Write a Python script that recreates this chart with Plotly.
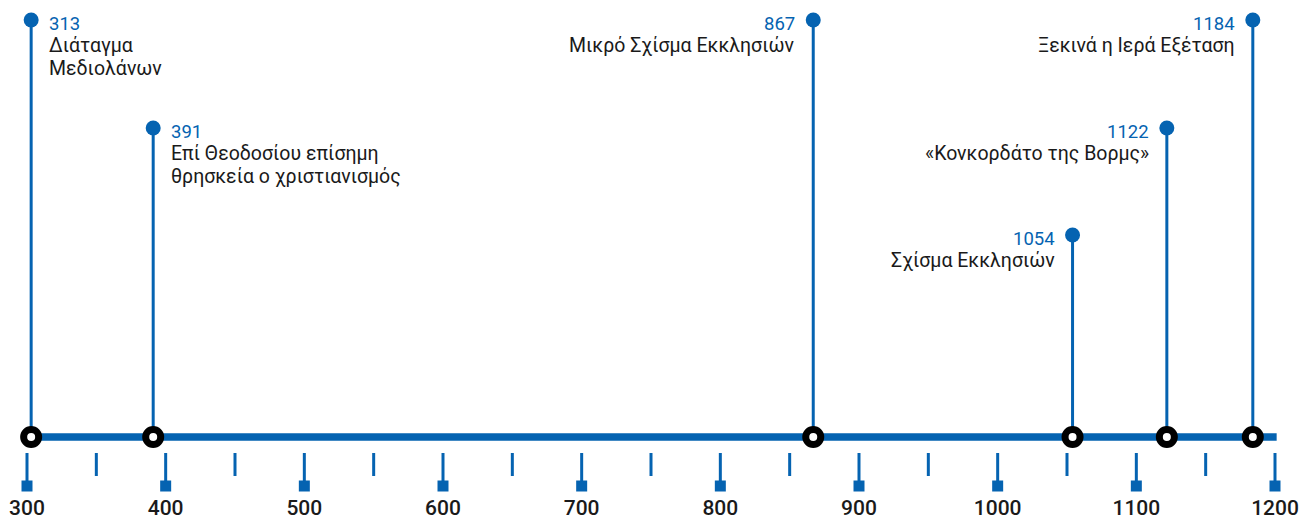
import plotly.graph_objects as go

# events
years = [313, 391, 867, 1054, 1122, 1184]
# where each event sits on the axis
axis_pos = [303, 391, 867, 1054, 1122, 1184]
stem_height = [417, 309, 417, 202, 309, 417]
labels = [
    ["Διάταγμα", "Μεδιολάνων"],
    ["Επί Θεοδοσίου επίσημη", "θρησκεία ο χριστιανισμός"],
    ["Μικρό Σχίσμα Εκκλησιών"],
    ["Σχίσμα Εκκλησιών"],
    ["«Κονκορδάτο της Βορμς»"],
    ["Ξεκινά η Ιερά Εξέταση"],
]
sides = ["right", "right", "left", "left", "left", "left"]

# axis ticks
major_ticks = [300, 400, 500, 600, 700, 800, 900, 1000, 1100, 1200]
minor_ticks = [350, 450, 550, 650, 750, 850, 950, 1050, 1150]

BLUE = "#0563b1"
DARK = "#1a1a1a"
FONT = "Roboto"

fig = go.Figure()

# main timeline bar
fig.add_trace(go.Scatter(
    x=[major_ticks[0], major_ticks[-1] + 1.2], y=[0, 0], mode="lines",
    line=dict(color=BLUE, width=7.5), hoverinfo="skip", showlegend=False,
))

# minor ticks
mx, my = [], []
for t in minor_ticks:
    mx += [t, t, None]
    my += [-16, -39, None]
fig.add_trace(go.Scatter(x=mx, y=my, mode="lines", line=dict(color=BLUE, width=3),
                         hoverinfo="skip", showlegend=False))

# major ticks + squares + labels
Mx, My = [], []
for t in major_ticks:
    Mx += [t, t, None]
    My += [-16, -44, None]
fig.add_trace(go.Scatter(x=Mx, y=My, mode="lines", line=dict(color=BLUE, width=3),
                         hoverinfo="skip", showlegend=False))
fig.add_trace(go.Scatter(
    x=major_ticks, y=[-49] * len(major_ticks), mode="markers",
    marker=dict(symbol="square", size=11, color=BLUE), hoverinfo="skip", showlegend=False,
))
fig.add_trace(go.Scatter(
    x=major_ticks, y=[-73] * len(major_ticks), mode="text",
    text=[str(t) for t in major_ticks], textposition="middle center",
    textfont=dict(family=FONT, size=21, color=DARK, weight=500),
    cliponaxis=False, hoverinfo="skip", showlegend=False,
))

# stems
sx, sy = [], []
for p, h in zip(axis_pos, stem_height):
    sx += [p, p, None]
    sy += [0, h, None]
fig.add_trace(go.Scatter(x=sx, y=sy, mode="lines", line=dict(color=BLUE, width=3),
                         hoverinfo="skip", showlegend=False))

# top dots
fig.add_trace(go.Scatter(
    x=axis_pos, y=stem_height, mode="markers",
    marker=dict(size=15, color=BLUE),
    customdata=[" ".join(l) for l in labels],
    hovertemplate="%{customdata}<extra></extra>", showlegend=False,
))

# rings on the timeline
fig.add_trace(go.Scatter(
    x=axis_pos, y=[0] * len(axis_pos), mode="markers",
    marker=dict(size=15, color="white", line=dict(color="black", width=7)),
    hoverinfo="skip", showlegend=False,
))

# text labels: year in blue, then description lines below it
for yr, p, h, lines, side in zip(years, axis_pos, stem_height, labels, sides):
    right = side == "right"
    rows = [(str(yr), BLUE, 18.5, -4)] + [(ln, DARK, 19.5, -2 - 23 * (i + 1)) for i, ln in enumerate(lines)]
    for txt, col, sz, dy in rows:
        fig.add_annotation(
            x=p, y=h, xref="x", yref="y",
            text=txt, showarrow=False,
            xanchor="left" if right else "right",
            yanchor="middle",
            xshift=16 if right else -16,
            yshift=dy,
            font=dict(family=FONT, size=sz, color=col),
        )

fig.update_layout(
    width=1301, height=519,
    margin=dict(l=0, r=0, t=0, b=0),
    paper_bgcolor="white", plot_bgcolor="white",
    xaxis=dict(range=[280.53, 1218.75], visible=False, fixedrange=True),
    yaxis=dict(range=[-82, 437], visible=False, fixedrange=True),
    showlegend=False,
)

# drop the default 8px body margin so the figure fills the window exactly
fig.write_html(
    "out.html",
    config={"displayModeBar": False},
    post_script="document.body.style.margin='0';document.body.style.overflow='hidden';",
)
